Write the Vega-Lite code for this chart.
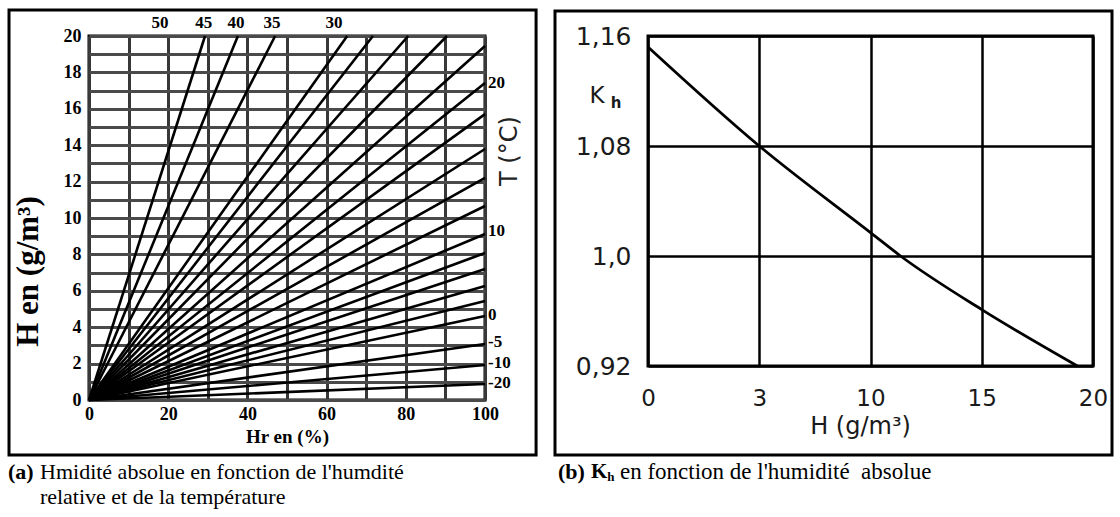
{
  "$schema": "https://vega.github.io/schema/vega-lite/v6.json",
  "padding": {"left": 6, "top": 6, "right": 0, "bottom": 0},
  "background": "white",
  "spacing": 11,
  "config": {
    "view": {"stroke": "black", "strokeWidth": 3},
    "axis": {"ticks": false, "domain": false, "labelColor": "black", "titleColor": "black", "labelFlush": false, "labelOverlap": false, "gridOpacity": 1}
  },
  "datasets": {
    "one": [{}],
    "tlines": [
      {"T": -20, "hr0": 0, "h0": 0, "hr1": 100, "h1": 0.88},
      {"T": -10, "hr0": 0, "h0": 0, "hr1": 100, "h1": 1.92},
      {"T": -5, "hr0": 0, "h0": 0, "hr1": 100, "h1": 3.08},
      {"T": 0, "hr0": 0, "h0": 0, "hr1": 100, "h1": 4.62},
      {"T": 2, "hr0": 0, "h0": 0, "hr1": 100, "h1": 5.44},
      {"T": 4, "hr0": 0, "h0": 0, "hr1": 100, "h1": 6.26},
      {"T": 6, "hr0": 0, "h0": 0, "hr1": 100, "h1": 7.2},
      {"T": 8, "hr0": 0, "h0": 0, "hr1": 100, "h1": 8.08},
      {"T": 10, "hr0": 0, "h0": 0, "hr1": 100, "h1": 9.12},
      {"T": 12, "hr0": 0, "h0": 0, "hr1": 100, "h1": 10.66},
      {"T": 14, "hr0": 0, "h0": 0, "hr1": 100, "h1": 12.2},
      {"T": 16, "hr0": 0, "h0": 0, "hr1": 100, "h1": 13.79},
      {"T": 18, "hr0": 0, "h0": 0, "hr1": 100, "h1": 15.71},
      {"T": 20, "hr0": 0, "h0": 0, "hr1": 100, "h1": 17.42},
      {"T": 22, "hr0": 0, "h0": 0, "hr1": 100, "h1": 19.45},
      {"T": 24, "hr0": 0, "h0": 0, "hr1": 90.4, "h1": 20},
      {"T": 26, "hr0": 0, "h0": 0, "hr1": 80.6, "h1": 20},
      {"T": 28, "hr0": 0, "h0": 0, "hr1": 71.7, "h1": 20},
      {"T": 30, "hr0": 0, "h0": 0, "hr1": 65.2, "h1": 20},
      {"T": 35, "hr0": 0, "h0": 0, "hr1": 47.0, "h1": 20},
      {"T": 40, "hr0": 0, "h0": 0, "hr1": 37.6, "h1": 20},
      {"T": 45, "hr0": 0, "h0": 0, "hr1": 29.3, "h1": 20}
    ],
    "toplab": [
      {"t": "50", "Hr": 17.9, "H": 20},
      {"t": "45", "Hr": 29.0, "H": 20},
      {"t": "40", "Hr": 37.1, "H": 20},
      {"t": "35", "Hr": 46.2, "H": 20},
      {"t": "30", "Hr": 61.9, "H": 20}
    ],
    "rightlab": [
      {"t": "20", "Hr": 100, "H": 17.42},
      {"t": "10", "Hr": 100, "H": 9.29},
      {"t": "0", "Hr": 100, "H": 4.67},
      {"t": "-5", "Hr": 100, "H": 3.19},
      {"t": "-10", "Hr": 100, "H": 2.03},
      {"t": "-20", "Hr": 100, "H": 0.93}
    ],
    "kh": [
      {"H": 0, "K": 1.152},
      {"H": 3, "K": 1.08},
      {"H": 10, "K": 1.017},
      {"H": 11.35, "K": 1.0},
      {"H": 15, "K": 0.961},
      {"H": 19.3, "K": 0.92}
    ]
  },
  "hconcat": [
    {
      "width": 396,
      "height": 364,
      "layer": [
        {
          "data": {"name": "tlines"},
          "mark": {"type": "rule", "color": "black", "strokeWidth": 2.6},
          "encoding": {
            "x": {"field": "hr0", "type": "quantitative",
              "scale": {"domain": [0, 100], "nice": false, "zero": false},
              "axis": {"values": [0,10,20,30,40,50,60,70,80,90,100], "labelExpr": "datum.value % 20 == 0 ? datum.label : ''", "labelFont": "Liberation Serif", "labelFontWeight": "bold", "labelFontSize": 18, "labelPadding": 5, "title": "Hr en (%)", "titleFont": "Liberation Serif", "titleFontWeight": "bold", "titleFontSize": 19, "titlePadding": 4, "grid": true, "gridColor": "#383838", "gridWidth": 3}},
            "x2": {"field": "hr1"},
            "y": {"field": "h0", "type": "quantitative",
              "scale": {"domain": [0, 20], "nice": false, "zero": false},
              "axis": {"values": [0,1,2,3,4,5,6,7,8,9,10,11,12,13,14,15,16,17,18,19,20], "labelExpr": "datum.value % 2 == 0 ? datum.label : ''", "labelFont": "Liberation Serif", "labelFontWeight": "bold", "labelFontSize": 18, "labelPadding": 8, "title": "H en (g/m³)", "titleFont": "Liberation Serif", "titleFontWeight": "bold", "titleFontSize": 31, "titlePadding": 19, "titleY": 235, "grid": true, "gridColor": "#4a4a4a", "gridWidth": 3}},
            "y2": {"field": "h1"},
            "detail": {"field": "T", "type": "quantitative"}
          }
        },
        {
          "data": {"name": "one"},
          "mark": {"type": "rect", "fill": "transparent", "stroke": "black", "strokeWidth": 3},
          "encoding": {
            "x": {"datum": -20.2, "type": "quantitative",
              "axis": {"values": [0,10,20,30,40,50,60,70,80,90,100], "labelExpr": "datum.value % 20 == 0 ? datum.label : ''", "labelFont": "Liberation Serif", "labelFontWeight": "bold", "labelFontSize": 18, "labelPadding": 5, "title": "Hr en (%)", "titleFont": "Liberation Serif", "titleFontWeight": "bold", "titleFontSize": 19, "titlePadding": 4, "grid": true, "gridColor": "#383838", "gridWidth": 3}},
            "x2": {"datum": 112.9},
            "y": {"datum": -3.02, "type": "quantitative",
              "axis": {"values": [0,1,2,3,4,5,6,7,8,9,10,11,12,13,14,15,16,17,18,19,20], "labelExpr": "datum.value % 2 == 0 ? datum.label : ''", "labelFont": "Liberation Serif", "labelFontWeight": "bold", "labelFontSize": 18, "labelPadding": 8, "title": "H en (g/m³)", "titleFont": "Liberation Serif", "titleFontWeight": "bold", "titleFontSize": 31, "titlePadding": 19, "titleY": 235, "grid": true, "gridColor": "#4a4a4a", "gridWidth": 3}},
            "y2": {"datum": 21.43}
          }
        },
        {
          "data": {"name": "toplab"},
          "mark": {"type": "text", "font": "Liberation Serif", "fontWeight": "bold", "fontSize": 17, "dy": -13, "color": "black"},
          "encoding": {
            "x": {"field": "Hr", "type": "quantitative",
              "axis": {"values": [0,10,20,30,40,50,60,70,80,90,100], "labelExpr": "datum.value % 20 == 0 ? datum.label : ''", "labelFont": "Liberation Serif", "labelFontWeight": "bold", "labelFontSize": 18, "labelPadding": 5, "title": "Hr en (%)", "titleFont": "Liberation Serif", "titleFontWeight": "bold", "titleFontSize": 19, "titlePadding": 4, "grid": true, "gridColor": "#383838", "gridWidth": 3}},
            "y": {"field": "H", "type": "quantitative",
              "axis": {"values": [0,1,2,3,4,5,6,7,8,9,10,11,12,13,14,15,16,17,18,19,20], "labelExpr": "datum.value % 2 == 0 ? datum.label : ''", "labelFont": "Liberation Serif", "labelFontWeight": "bold", "labelFontSize": 18, "labelPadding": 8, "title": "H en (g/m³)", "titleFont": "Liberation Serif", "titleFontWeight": "bold", "titleFontSize": 31, "titlePadding": 19, "titleY": 235, "grid": true, "gridColor": "#4a4a4a", "gridWidth": 3}},
            "text": {"field": "t"}
          }
        },
        {
          "data": {"name": "rightlab"},
          "mark": {"type": "text", "font": "Liberation Serif", "fontWeight": "bold", "fontSize": 17, "align": "left", "dx": 3, "color": "black"},
          "encoding": {
            "x": {"field": "Hr", "type": "quantitative",
              "axis": {"values": [0,10,20,30,40,50,60,70,80,90,100], "labelExpr": "datum.value % 20 == 0 ? datum.label : ''", "labelFont": "Liberation Serif", "labelFontWeight": "bold", "labelFontSize": 18, "labelPadding": 5, "title": "Hr en (%)", "titleFont": "Liberation Serif", "titleFontWeight": "bold", "titleFontSize": 19, "titlePadding": 4, "grid": true, "gridColor": "#383838", "gridWidth": 3}},
            "y": {"field": "H", "type": "quantitative",
              "axis": {"values": [0,1,2,3,4,5,6,7,8,9,10,11,12,13,14,15,16,17,18,19,20], "labelExpr": "datum.value % 2 == 0 ? datum.label : ''", "labelFont": "Liberation Serif", "labelFontWeight": "bold", "labelFontSize": 18, "labelPadding": 8, "title": "H en (g/m³)", "titleFont": "Liberation Serif", "titleFontWeight": "bold", "titleFontSize": 31, "titlePadding": 19, "titleY": 235, "grid": true, "gridColor": "#4a4a4a", "gridWidth": 3}},
            "text": {"field": "t"}
          }
        },
        {
          "data": {"name": "one"},
          "mark": {"type": "text", "text": "T (°C)", "font": "DejaVu Sans", "fontSize": 24, "angle": 270, "color": "#222"},
          "encoding": {
            "x": {"datum": 106.3, "type": "quantitative",
              "axis": {"values": [0,10,20,30,40,50,60,70,80,90,100], "labelExpr": "datum.value % 20 == 0 ? datum.label : ''", "labelFont": "Liberation Serif", "labelFontWeight": "bold", "labelFontSize": 18, "labelPadding": 5, "title": "Hr en (%)", "titleFont": "Liberation Serif", "titleFontWeight": "bold", "titleFontSize": 19, "titlePadding": 4, "grid": true, "gridColor": "#383838", "gridWidth": 3}},
            "y": {"datum": 13.68, "type": "quantitative",
              "axis": {"values": [0,1,2,3,4,5,6,7,8,9,10,11,12,13,14,15,16,17,18,19,20], "labelExpr": "datum.value % 2 == 0 ? datum.label : ''", "labelFont": "Liberation Serif", "labelFontWeight": "bold", "labelFontSize": 18, "labelPadding": 8, "title": "H en (g/m³)", "titleFont": "Liberation Serif", "titleFontWeight": "bold", "titleFontSize": 31, "titlePadding": 19, "titleY": 235, "grid": true, "gridColor": "#4a4a4a", "gridWidth": 3}}
          }
        },
        {
          "data": {"name": "one"},
          "mark": {"type": "text", "text": "(a)", "font": "Liberation Serif", "fontWeight": "bold", "fontSize": 22, "align": "left", "color": "black"},
          "encoding": {
            "x": {"datum": -20.45, "type": "quantitative",
              "axis": {"values": [0,10,20,30,40,50,60,70,80,90,100], "labelExpr": "datum.value % 20 == 0 ? datum.label : ''", "labelFont": "Liberation Serif", "labelFontWeight": "bold", "labelFontSize": 18, "labelPadding": 5, "title": "Hr en (%)", "titleFont": "Liberation Serif", "titleFontWeight": "bold", "titleFontSize": 19, "titlePadding": 4, "grid": true, "gridColor": "#383838", "gridWidth": 3}},
            "y": {"datum": -3.956, "type": "quantitative",
              "axis": {"values": [0,1,2,3,4,5,6,7,8,9,10,11,12,13,14,15,16,17,18,19,20], "labelExpr": "datum.value % 2 == 0 ? datum.label : ''", "labelFont": "Liberation Serif", "labelFontWeight": "bold", "labelFontSize": 18, "labelPadding": 8, "title": "H en (g/m³)", "titleFont": "Liberation Serif", "titleFontWeight": "bold", "titleFontSize": 31, "titlePadding": 19, "titleY": 235, "grid": true, "gridColor": "#4a4a4a", "gridWidth": 3}}
          }
        },
        {
          "data": {"name": "one"},
          "mark": {"type": "text", "text": "Hmidité absolue en fonction de l'humdité", "font": "Liberation Serif", "fontSize": 22, "align": "left", "color": "black"},
          "encoding": {
            "x": {"datum": -12.37, "type": "quantitative",
              "axis": {"values": [0,10,20,30,40,50,60,70,80,90,100], "labelExpr": "datum.value % 20 == 0 ? datum.label : ''", "labelFont": "Liberation Serif", "labelFontWeight": "bold", "labelFontSize": 18, "labelPadding": 5, "title": "Hr en (%)", "titleFont": "Liberation Serif", "titleFontWeight": "bold", "titleFontSize": 19, "titlePadding": 4, "grid": true, "gridColor": "#383838", "gridWidth": 3}},
            "y": {"datum": -3.956, "type": "quantitative",
              "axis": {"values": [0,1,2,3,4,5,6,7,8,9,10,11,12,13,14,15,16,17,18,19,20], "labelExpr": "datum.value % 2 == 0 ? datum.label : ''", "labelFont": "Liberation Serif", "labelFontWeight": "bold", "labelFontSize": 18, "labelPadding": 8, "title": "H en (g/m³)", "titleFont": "Liberation Serif", "titleFontWeight": "bold", "titleFontSize": 31, "titlePadding": 19, "titleY": 235, "grid": true, "gridColor": "#4a4a4a", "gridWidth": 3}}
          }
        },
        {
          "data": {"name": "one"},
          "mark": {"type": "text", "text": "relative et de la température", "font": "Liberation Serif", "fontSize": 22, "align": "left", "color": "black"},
          "encoding": {
            "x": {"datum": -12.4, "type": "quantitative",
              "axis": {"values": [0,10,20,30,40,50,60,70,80,90,100], "labelExpr": "datum.value % 20 == 0 ? datum.label : ''", "labelFont": "Liberation Serif", "labelFontWeight": "bold", "labelFontSize": 18, "labelPadding": 5, "title": "Hr en (%)", "titleFont": "Liberation Serif", "titleFontWeight": "bold", "titleFontSize": 19, "titlePadding": 4, "grid": true, "gridColor": "#383838", "gridWidth": 3}},
            "y": {"datum": -5.33, "type": "quantitative",
              "axis": {"values": [0,1,2,3,4,5,6,7,8,9,10,11,12,13,14,15,16,17,18,19,20], "labelExpr": "datum.value % 2 == 0 ? datum.label : ''", "labelFont": "Liberation Serif", "labelFontWeight": "bold", "labelFontSize": 18, "labelPadding": 8, "title": "H en (g/m³)", "titleFont": "Liberation Serif", "titleFontWeight": "bold", "titleFontSize": 31, "titlePadding": 19, "titleY": 235, "grid": true, "gridColor": "#4a4a4a", "gridWidth": 3}}
          }
        }
      ]
    },
    {
      "width": 445,
      "height": 330,
      "layer": [
        {
          "data": {"name": "kh"},
          "mark": {"type": "line", "color": "black", "strokeWidth": 2.8, "interpolate": "monotone"},
          "encoding": {
            "x": {"field": "H", "type": "quantitative",
              "scale": {"domain": [0, 3, 10, 15, 20], "range": [0, 111.25, 222.5, 333.75, 445], "nice": false, "zero": false},
              "axis": {"values": [0, 3, 10, 15, 20], "labelFont": "DejaVu Sans", "labelFontSize": 23, "labelPadding": 21, "labelColor": "#1a1a1a", "title": "H (g/m³)", "titleFont": "DejaVu Sans", "titleFontWeight": "normal", "titleFontSize": 24, "titlePadding": 4, "titleX": 212, "titleColor": "#1a1a1a", "grid": true, "gridColor": "black", "gridWidth": 2.5}},
            "y": {"field": "K", "type": "quantitative",
              "scale": {"domain": [0.92, 1.16], "nice": false, "zero": false},
              "axis": {"values": [0.92, 1.0, 1.08, 1.16], "labelExpr": "datum.value == 1 ? '1,0' : replace(format(datum.value, '.2f'), '.', ',')", "labelFont": "DejaVu Sans", "labelFontSize": 25, "labelPadding": 17, "labelColor": "#1a1a1a", "title": null, "grid": true, "gridColor": "black", "gridWidth": 2.5}}
          }
        },
        {
          "data": {"name": "one"},
          "mark": {"type": "rect", "fill": "transparent", "stroke": "black", "strokeWidth": 3},
          "encoding": {
            "x": {"datum": -2.508, "type": "quantitative",
              "axis": {"values": [0, 3, 10, 15, 20], "labelFont": "DejaVu Sans", "labelFontSize": 23, "labelPadding": 21, "labelColor": "#1a1a1a", "title": "H (g/m³)", "titleFont": "DejaVu Sans", "titleFontWeight": "normal", "titleFontSize": 24, "titlePadding": 4, "titleX": 212, "titleColor": "#1a1a1a", "grid": true, "gridColor": "black", "gridWidth": 2.5}},
            "x2": {"datum": 20.854},
            "y": {"datum": 0.8553, "type": "quantitative",
              "axis": {"values": [0.92, 1.0, 1.08, 1.16], "labelExpr": "datum.value == 1 ? '1,0' : replace(format(datum.value, '.2f'), '.', ',')", "labelFont": "DejaVu Sans", "labelFontSize": 25, "labelPadding": 17, "labelColor": "#1a1a1a", "title": null, "grid": true, "gridColor": "black", "gridWidth": 2.5}},
            "y2": {"datum": 1.1782}
          }
        },
        {
          "data": {"name": "one"},
          "mark": {"type": "text", "text": "K", "font": "DejaVu Sans", "fontSize": 23, "color": "#1a1a1a"},
          "encoding": {
            "x": {"datum": -1.375, "type": "quantitative",
              "axis": {"values": [0, 3, 10, 15, 20], "labelFont": "DejaVu Sans", "labelFontSize": 23, "labelPadding": 21, "labelColor": "#1a1a1a", "title": "H (g/m³)", "titleFont": "DejaVu Sans", "titleFontWeight": "normal", "titleFontSize": 24, "titlePadding": 4, "titleX": 212, "titleColor": "#1a1a1a", "grid": true, "gridColor": "black", "gridWidth": 2.5}},
            "y": {"datum": 1.1164, "type": "quantitative",
              "axis": {"values": [0.92, 1.0, 1.08, 1.16], "labelExpr": "datum.value == 1 ? '1,0' : replace(format(datum.value, '.2f'), '.', ',')", "labelFont": "DejaVu Sans", "labelFontSize": 25, "labelPadding": 17, "labelColor": "#1a1a1a", "title": null, "grid": true, "gridColor": "black", "gridWidth": 2.5}}
          }
        },
        {
          "data": {"name": "one"},
          "mark": {"type": "text", "text": "h", "font": "DejaVu Sans", "fontWeight": "bold", "fontSize": 15, "color": "#1a1a1a"},
          "encoding": {
            "x": {"datum": -0.863, "type": "quantitative",
              "axis": {"values": [0, 3, 10, 15, 20], "labelFont": "DejaVu Sans", "labelFontSize": 23, "labelPadding": 21, "labelColor": "#1a1a1a", "title": "H (g/m³)", "titleFont": "DejaVu Sans", "titleFontWeight": "normal", "titleFontSize": 24, "titlePadding": 4, "titleX": 212, "titleColor": "#1a1a1a", "grid": true, "gridColor": "black", "gridWidth": 2.5}},
            "y": {"datum": 1.1113, "type": "quantitative",
              "axis": {"values": [0.92, 1.0, 1.08, 1.16], "labelExpr": "datum.value == 1 ? '1,0' : replace(format(datum.value, '.2f'), '.', ',')", "labelFont": "DejaVu Sans", "labelFontSize": 25, "labelPadding": 17, "labelColor": "#1a1a1a", "title": null, "grid": true, "gridColor": "black", "gridWidth": 2.5}}
          }
        },
        {
          "data": {"name": "one"},
          "mark": {"type": "text", "text": "(b)", "font": "Liberation Serif", "fontWeight": "bold", "fontSize": 22, "align": "left", "color": "black"},
          "encoding": {
            "x": {"datum": -2.427, "type": "quantitative",
              "axis": {"values": [0, 3, 10, 15, 20], "labelFont": "DejaVu Sans", "labelFontSize": 23, "labelPadding": 21, "labelColor": "#1a1a1a", "title": "H (g/m³)", "titleFont": "DejaVu Sans", "titleFontWeight": "normal", "titleFontSize": 24, "titlePadding": 4, "titleX": 212, "titleColor": "#1a1a1a", "grid": true, "gridColor": "black", "gridWidth": 2.5}},
            "y": {"datum": 0.8429, "type": "quantitative",
              "axis": {"values": [0.92, 1.0, 1.08, 1.16], "labelExpr": "datum.value == 1 ? '1,0' : replace(format(datum.value, '.2f'), '.', ',')", "labelFont": "DejaVu Sans", "labelFontSize": 25, "labelPadding": 17, "labelColor": "#1a1a1a", "title": null, "grid": true, "gridColor": "black", "gridWidth": 2.5}}
          }
        },
        {
          "data": {"name": "one"},
          "mark": {"type": "text", "text": "K", "font": "Liberation Serif", "fontWeight": "bold", "fontSize": 21, "align": "left", "color": "black"},
          "encoding": {
            "x": {"datum": -1.537, "type": "quantitative",
              "axis": {"values": [0, 3, 10, 15, 20], "labelFont": "DejaVu Sans", "labelFontSize": 23, "labelPadding": 21, "labelColor": "#1a1a1a", "title": "H (g/m³)", "titleFont": "DejaVu Sans", "titleFontWeight": "normal", "titleFontSize": 24, "titlePadding": 4, "titleX": 212, "titleColor": "#1a1a1a", "grid": true, "gridColor": "black", "gridWidth": 2.5}},
            "y": {"datum": 0.8429, "type": "quantitative",
              "axis": {"values": [0.92, 1.0, 1.08, 1.16], "labelExpr": "datum.value == 1 ? '1,0' : replace(format(datum.value, '.2f'), '.', ',')", "labelFont": "DejaVu Sans", "labelFontSize": 25, "labelPadding": 17, "labelColor": "#1a1a1a", "title": null, "grid": true, "gridColor": "black", "gridWidth": 2.5}}
          }
        },
        {
          "data": {"name": "one"},
          "mark": {"type": "text", "text": "h", "font": "Liberation Serif", "fontWeight": "bold", "fontSize": 13, "align": "left", "color": "black"},
          "encoding": {
            "x": {"datum": -1.1, "type": "quantitative",
              "axis": {"values": [0, 3, 10, 15, 20], "labelFont": "DejaVu Sans", "labelFontSize": 23, "labelPadding": 21, "labelColor": "#1a1a1a", "title": "H (g/m³)", "titleFont": "DejaVu Sans", "titleFontWeight": "normal", "titleFontSize": 24, "titlePadding": 4, "titleX": 212, "titleColor": "#1a1a1a", "grid": true, "gridColor": "black", "gridWidth": 2.5}},
            "y": {"datum": 0.8393, "type": "quantitative",
              "axis": {"values": [0.92, 1.0, 1.08, 1.16], "labelExpr": "datum.value == 1 ? '1,0' : replace(format(datum.value, '.2f'), '.', ',')", "labelFont": "DejaVu Sans", "labelFontSize": 25, "labelPadding": 17, "labelColor": "#1a1a1a", "title": null, "grid": true, "gridColor": "black", "gridWidth": 2.5}}
          }
        },
        {
          "data": {"name": "one"},
          "mark": {"type": "text", "text": "en fonction de l'humidité\u00a0 absolue", "font": "Liberation Serif", "fontSize": 23, "align": "left", "color": "black"},
          "encoding": {
            "x": {"datum": -0.755, "type": "quantitative",
              "axis": {"values": [0, 3, 10, 15, 20], "labelFont": "DejaVu Sans", "labelFontSize": 23, "labelPadding": 21, "labelColor": "#1a1a1a", "title": "H (g/m³)", "titleFont": "DejaVu Sans", "titleFontWeight": "normal", "titleFontSize": 24, "titlePadding": 4, "titleX": 212, "titleColor": "#1a1a1a", "grid": true, "gridColor": "black", "gridWidth": 2.5}},
            "y": {"datum": 0.8429, "type": "quantitative",
              "axis": {"values": [0.92, 1.0, 1.08, 1.16], "labelExpr": "datum.value == 1 ? '1,0' : replace(format(datum.value, '.2f'), '.', ',')", "labelFont": "DejaVu Sans", "labelFontSize": 25, "labelPadding": 17, "labelColor": "#1a1a1a", "title": null, "grid": true, "gridColor": "black", "gridWidth": 2.5}}
          }
        }
      ]
    }
  ]
}
